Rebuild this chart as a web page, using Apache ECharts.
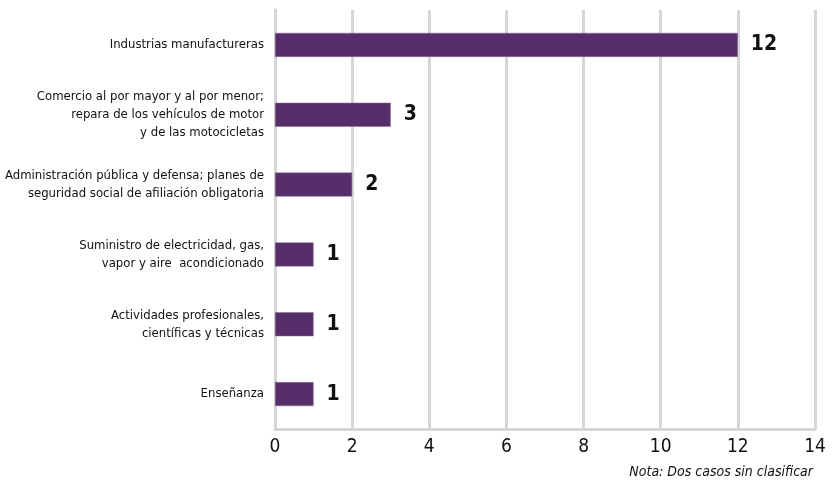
<!DOCTYPE html>
<html><head><meta charset="utf-8">
<script src="https://cdn.jsdelivr.net/npm/echarts@6/dist/echarts.min.js"></script>
<style>html,body{margin:0;padding:0;background:#fff}#c{width:838px;height:485px}</style>
</head><body><div id="c"></div>
<script>
var categories = [
  "Industrias manufactureras",
  "Comercio al por mayor y al por menor;\nrepara de los vehículos de motor\ny de las motocicletas",
  "Administración pública y defensa; planes de\nseguridad social de afiliación obligatoria",
  "Suministro de electricidad, gas,\nvapor y aire  acondicionado",
  "Actividades profesionales,\ncientíficas y técnicas",
  "Enseñanza"
];
var values = [12, 3, 2, 1, 1, 1];
var xTicks = [0, 2, 4, 6, 8, 10, 12, 14];
var note = "Nota: Dos casos sin clasificar";

var FONT = "'Liberation Sans Narrow', 'DejaVu Sans Condensed', sans-serif";
var chart = echarts.init(document.getElementById('c'));
chart.setOption({
  animation: false,
  grid: {left: 275, right: 23, top: 10, bottom: 56, containLabel: false, outerBoundsMode: 'none'},
  xAxis: {
    type: 'value', min: xTicks[0], max: xTicks[xTicks.length-1], interval: 2,
    axisLine: {show: true, lineStyle: {color: '#d6d6d6', width: 3}},
    axisTick: {show: false},
    splitLine: {show: true, lineStyle: {color: '#d6d6d6', width: 3}},
    axisLabel: {color: '#111', fontFamily: FONT, fontSize: 19, margin: 9}
  },
  yAxis: {
    type: 'category', data: categories, inverse: true,
    axisLine: {show: true, lineStyle: {color: '#d6d6d6', width: 3}},
    axisTick: {show: false},
    axisLabel: {color: '#111', fontFamily: FONT, fontSize: 13, lineHeight: 18, margin: 11, align: 'right'}
  },
  series: [{
    type: 'bar', data: values, barWidth: 24,
    itemStyle: {color: '#562e6a', borderColor: '#8a6a9a', borderWidth: 0.5},
    label: {show: true, position: 'right', distance: 13, color: '#111', fontFamily: FONT, fontSize: 21, fontWeight: 'bold'}
  }],
  graphic: [{
    type: 'text', right: 25, top: 465,
    style: {text: note, fontFamily: FONT, fontSize: 14, fontStyle: 'italic', fill: '#111'}
  }]
});
</script></body></html>
